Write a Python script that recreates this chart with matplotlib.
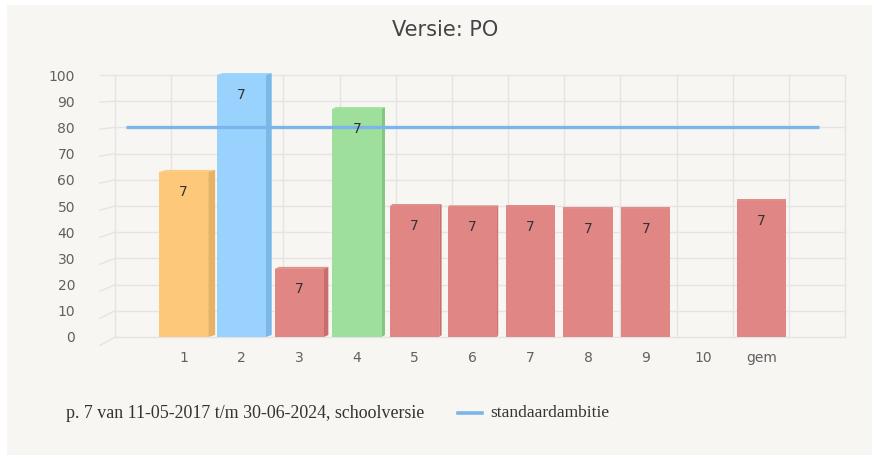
import matplotlib
matplotlib.use("Agg")
import matplotlib.pyplot as plt
from matplotlib.patches import Rectangle, Polygon
from matplotlib.lines import Line2D
import numpy as np

# ---- data ----
categories = ["1", "2", "3", "4", "5", "6", "7", "8", "9", "10", "gem"]
bar_values = [63, 100, 26, 87, 50, 49.5, 49.5, 49, 49, None, 52]
bar_labels = ["7", "7", "7", "7", "7", "7", "7", "7", "7", "", "7"]
bar_colors = ["#fec87b", "#99d3fd", "#e08785", "#9ee09b", "#e08785", "#e08785",
              "#e08785", "#e08785", "#e08785", "#e08785", "#e08785"]
side_colors = ["#e8b264", "#7cb8e6", "#c96e6c", "#84c581", "#c96e6c", "#c96e6c",
               "#c96e6c", "#c96e6c", "#c96e6c", "#c96e6c", "#c96e6c"]
line_value = 80
line_label = "standaardambitie"
title = "Versie: PO"
footer = "p. 7 van 11-05-2017 t/m 30-06-2024, schoolversie"
y_ticks = [0, 10, 20, 30, 40, 50, 60, 70, 80, 90, 100]

W, H = 872, 455
fig = plt.figure(figsize=(W / 100, H / 100), dpi=100)
fig.patch.set_facecolor("white")
bg = "#f7f6f2"
fig.add_artist(Rectangle((7 / W, 0), 1 - 7 / W, (H - 5) / H, transform=fig.transFigure,
                         facecolor=bg, edgecolor="none", zorder=0))

def fx(px):
    return px / W

def fy(py):
    return (H - py) / H

ax_left, ax_right, ax_top, ax_bottom = 97, 848, 75, 337
ax = fig.add_axes([fx(ax_left), fy(ax_bottom), (ax_right - ax_left) / W, (ax_bottom - ax_top) / H])
ax.set_facecolor("none")
xmin, xmax = -0.5, 12.5
ax.set_xlim(xmin, xmax)
ax.set_ylim(0, 100)
for s in ax.spines.values():
    s.set_visible(False)

ppx = (ax_right - ax_left) / (xmax - xmin)   # pixels per x unit
ppy = (ax_bottom - ax_top) / 100.0           # pixels per y unit

def dx(px):
    return (px - ax_left) / ppx + xmin

grid_c = "#e4e4e4"
# back wall grid
wall_l, wall_r = 115, 845
for v in y_ticks:
    ax.plot([dx(wall_l), dx(wall_r)], [v, v], color=grid_c, lw=1, zorder=1, clip_on=False)
    # left wall short segment
    ax.plot([dx(100), dx(wall_l)], [v - 3.2 * (1 - v / 100), v], color=grid_c, lw=1,
            zorder=1, clip_on=False)
ncol = 13
for k in range(ncol + 1):
    xp = wall_l + (wall_r - wall_l) * k / ncol
    ax.plot([dx(xp), dx(xp)], [0, 100], color=grid_c, lw=1, zorder=1, clip_on=False)

# bars (front faces + simple 3D sides/tops)
pos = np.arange(1, len(categories) + 1)
width = 0.85
rise = 2.0 / ppy
for i, (p, v) in enumerate(zip(pos, bar_values)):
    if v is None:
        continue
    d = max(0.0, 1.15 * (7 - p)) / ppx
    x0, x1 = p - width / 2, p + width / 2
    # top face
    ax.add_patch(Polygon([[x0, v], [x1, v], [x1 + d, v + rise], [x0 + d, v + rise]],
                         closed=True, facecolor=bar_colors[i], edgecolor="none",
                         zorder=3, clip_on=False, alpha=0.95))
    # side face
    if d > 0:
        ax.add_patch(Polygon([[x1, 0], [x1, v], [x1 + d, v + rise], [x1 + d, rise]],
                             closed=True, facecolor=side_colors[i], edgecolor="none",
                             zorder=3, clip_on=False))
    ax.bar(p, v, width=width, color=bar_colors[i], zorder=4, clip_on=False)
    ax.annotate(bar_labels[i], (p, v), xytext=(0, -14.5), textcoords="offset points",
                ha="center", va="center", fontsize=10, color="#333333", zorder=6)

# line series
ax.plot([0, 12], [line_value, line_value], color="#7cb5ec", lw=2.4, zorder=5,
        solid_capstyle="butt", clip_on=False)

ax.set_xticks(pos)
ax.set_xticklabels(categories)
ax.set_yticks(y_ticks)
ax.set_yticklabels([str(t) for t in y_ticks])
ax.tick_params(axis="both", length=0, labelsize=10, labelcolor="#606060")
ax.tick_params(axis="y", pad=22 * 0.72)
ax.tick_params(axis="x", pad=14 * 0.72)

fig.text(fx(445), fy(30), title, ha="center", va="center", fontsize=15, color="#444444")

serif = ["Liberation Serif", "DejaVu Serif"]
fig.text(fx(66), fy(413), footer, ha="left", va="center", fontsize=12.9,
         color="#333333", family=serif)
fig.add_artist(Line2D([fx(458), fx(482)], [fy(413), fy(413)], transform=fig.transFigure,
                      color="#7cb5ec", lw=2.6))
fig.text(fx(490), fy(413), line_label, ha="left", va="center", fontsize=12.5,
         color="#333333", family=serif)

fig.savefig("out.png", dpi=100, facecolor=fig.get_facecolor())
